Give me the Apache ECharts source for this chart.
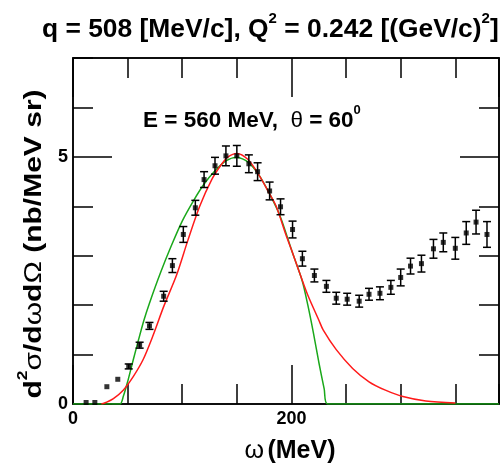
<!DOCTYPE html>
<html>
<head>
<meta charset="utf-8">
<script src="https://cdn.jsdelivr.net/npm/echarts@6/dist/echarts.min.js"></script>
<style>
  html, body { margin: 0; padding: 0; background: #fff; }
  #chart { width: 504px; height: 466px; }
</style>
</head>
<body>
<div id="chart"></div>
<script>
// Measured cross section (energy transfer in MeV, value in nb/MeV sr, error)
const omega = [12, 20, 31, 41, 51, 61, 70, 83, 91, 101, 112, 120, 130, 140, 150, 161, 169, 180, 190, 201,
               210, 221, 232, 241, 251, 262, 271, 281, 291, 300, 309, 319, 330, 339, 350, 360, 369, 379];
const sigma = [0.03, 0.03, 0.35, 0.50, 0.76, 1.19, 1.58, 2.18, 2.80, 3.43, 3.97, 4.54, 4.82, 5.02, 5.02, 4.86, 4.70, 4.31, 3.99, 3.53,
               2.94, 2.60, 2.38, 2.14, 2.12, 2.08, 2.22, 2.24, 2.36, 2.56, 2.79, 2.84, 3.14, 3.27, 3.15, 3.46, 3.68, 3.43];
const sigmaErr = [0, 0, 0, 0, 0.05, 0.06, 0.07, 0.10, 0.14, 0.16, 0.15, 0.16, 0.17, 0.20, 0.21, 0.18, 0.18, 0.18, 0.16, 0.17,
                  0.15, 0.13, 0.12, 0.12, 0.12, 0.12, 0.12, 0.13, 0.14, 0.17, 0.16, 0.17, 0.19, 0.19, 0.22, 0.23, 0.24, 0.26];

// Model curves
const greenOmega = [0, 43, 46, 50, 55, 60, 65, 70, 80, 90, 100, 110, 120, 130, 140, 150, 160, 170, 180, 190, 200, 210, 215, 220, 225, 230, 233, 390];
const greenSigma = [0, 0, 0.15, 0.45, 0.88, 1.30, 1.70, 2.04, 2.65, 3.20, 3.70, 4.10, 4.45, 4.72, 4.92, 4.99, 4.90, 4.64, 4.25, 3.78, 3.12, 2.48, 2.00, 1.45, 0.85, 0.30, 0, 0];
const redOmega = [26, 30, 37, 46, 55, 64, 73, 83, 95, 105, 116, 127, 136, 142, 150, 160, 170, 180, 186, 195, 200, 208, 215, 225, 229, 241, 256, 271, 286, 302, 323, 350];
const redSigma = [0, 0.03, 0.11, 0.28, 0.55, 0.89, 1.37, 1.97, 2.62, 3.30, 4.00, 4.54, 4.85, 5.00, 5.07, 4.95, 4.64, 4.25, 4.00, 3.42, 3.12, 2.62, 2.20, 1.70, 1.50, 1.10, 0.72, 0.45, 0.28, 0.15, 0.06, 0.02];

const xLabelTicks = [0, 200];
const yLabelTicks = [0, 5];

const pairs = (xs, ys) => xs.map((x, i) => [x, ys[i]]);

const black = '#000';
const axisLineStyle = { color: black, width: 1.5 };
const tickStyle = { color: black, width: 1.5 };
const textFont = 'Liberation Sans, Arial, sans-serif';
const tickFont = { fontFamily: textFont, fontWeight: 'bold', fontSize: 18, color: black };

function xAxisDef(position, interval, len, labels) {
  return {
    type: 'value', min: 0, max: 390, interval: interval, position: position,
    axisLine: { show: true, onZero: false, lineStyle: axisLineStyle },
    axisTick: { show: true, inside: true, length: len, lineStyle: tickStyle },
    axisLabel: labels ? Object.assign({
      show: true, margin: 6, showMaxLabel: false,
      formatter: v => (xLabelTicks.indexOf(v) >= 0 ? String(v) : '')
    }, tickFont) : { show: false },
    splitLine: { show: false }
  };
}
function yAxisDef(position, interval, len, labels) {
  return {
    type: 'value', min: 0, max: 7, interval: interval, position: position,
    axisLine: { show: true, onZero: false, lineStyle: axisLineStyle },
    axisTick: { show: true, inside: true, length: len, lineStyle: tickStyle },
    axisLabel: labels ? Object.assign({
      show: true, margin: 5, showMaxLabel: false,
      formatter: v => (yLabelTicks.indexOf(v) >= 0 ? String(v) : '')
    }, tickFont) : { show: false },
    splitLine: { show: false }
  };
}

const chart = echarts.init(document.getElementById('chart'), null, { renderer: 'canvas' });

chart.setOption({
  animation: false,
  backgroundColor: '#fff',
  grid: { left: 73, top: 58, right: 5, bottom: 62, containLabel: false },
  xAxis: [
    xAxisDef('bottom', 50, 20, false),
    xAxisDef('bottom', 200, 39, true),
    xAxisDef('top', 50, 20, false),
    xAxisDef('top', 200, 39, false)
  ],
  yAxis: [
    yAxisDef('left', 1, 20, false),
    yAxisDef('left', 5, 39, true),
    yAxisDef('right', 1, 20, false),
    yAxisDef('right', 5, 39, false)
  ],
  graphic: [
    {
      type: 'text', left: 42, top: 11,
      style: {
        text: '{m|q = 508 [MeV/c], Q}{s|2}{m| = 0.242 [(GeV/c)}{s|2}{m|]}',
        rich: {
          m: { fontFamily: textFont, fontWeight: 'bold', fontSize: 26.4, lineHeight: 32, fill: black, verticalAlign: 'bottom' },
          s: { fontFamily: textFont, fontWeight: 'bold', fontSize: 15, lineHeight: 32, fill: black, verticalAlign: 'top' }
        }
      }
    },
    {
      type: 'text', left: 143, top: 104,
      style: {
        text: '{m|E = 560 MeV,  }{g|θ}{m| = 60}{s|0}',
        rich: {
          m: { fontFamily: textFont, fontWeight: 'bold', fontSize: 22.5, lineHeight: 28, fill: black, verticalAlign: 'bottom' },
          g: { fontFamily: textFont, fontWeight: 'normal', fontSize: 22.5, lineHeight: 28, fill: black, verticalAlign: 'bottom' },
          s: { fontFamily: textFont, fontWeight: 'bold', fontSize: 13, lineHeight: 28, fill: black, verticalAlign: 'top' }
        }
      }
    },
    {
      type: 'text', x: 290, y: 451,
      style: {
        text: '{g|ω} {m|(MeV)}',
        align: 'center', verticalAlign: 'middle',
        rich: {
          m: { fontFamily: textFont, fontWeight: 'bold', fontSize: 25, fill: black },
          g: { fontFamily: textFont, fontWeight: 'normal', fontSize: 25, fill: black }
        }
      }
    },
    {
      type: 'text', x: 31, y: 244, rotation: Math.PI / 2, scaleX: 1.25,
      style: {
        text: '{m|d}{s|2}{g|σ}{m|/d}{g|ω}{m|d}{g|Ω}{m| (nb/MeV sr)}',
        align: 'center', verticalAlign: 'middle',
        rich: {
          m: { fontFamily: textFont, fontWeight: 'bold', fontSize: 24, lineHeight: 30, fill: black, verticalAlign: 'bottom' },
          g: { fontFamily: textFont, fontWeight: 'normal', fontSize: 24, lineHeight: 30, fill: black, verticalAlign: 'bottom' },
          s: { fontFamily: textFont, fontWeight: 'bold', fontSize: 14, lineHeight: 30, fill: black, verticalAlign: 'top' }
        }
      }
    }
  ],
  series: [
    {
      type: 'line', name: 'green', xAxisIndex: 0, yAxisIndex: 0,
      data: pairs(greenOmega, greenSigma),
      showSymbol: false, smooth: 0.25, z: 3,
      lineStyle: { color: '#1aa81a', width: 1.5 }
    },
    {
      type: 'line', name: 'red', xAxisIndex: 0, yAxisIndex: 0,
      data: pairs(redOmega, redSigma),
      showSymbol: false, smooth: 0.3, z: 4,
      lineStyle: { color: '#ff1a1a', width: 1.5 }
    },
    {
      type: 'custom', name: 'errors', xAxisIndex: 0, yAxisIndex: 0, z: 5,
      data: omega.map((x, i) => [x, sigma[i], sigmaErr[i]]),
      renderItem: function (params, api) {
        const x = api.value(0), y = api.value(1), e = api.value(2);
        if (!e) return { type: 'group', children: [] };
        const hi = api.coord([x, y + e]);
        const lo = api.coord([x, y - e]);
        const hw = 4;
        const st = { stroke: black, lineWidth: 1.5 };
        return {
          type: 'group',
          children: [
            { type: 'line', shape: { x1: hi[0], y1: hi[1], x2: lo[0], y2: lo[1] }, style: st },
            { type: 'line', shape: { x1: hi[0] - hw, y1: hi[1], x2: hi[0] + hw, y2: hi[1] }, style: st },
            { type: 'line', shape: { x1: lo[0] - hw, y1: lo[1], x2: lo[0] + hw, y2: lo[1] }, style: st }
          ]
        };
      }
    },
    {
      type: 'scatter', name: 'data', xAxisIndex: 0, yAxisIndex: 0, z: 6,
      data: pairs(omega, sigma),
      symbol: 'rect', symbolSize: [5, 5],
      itemStyle: { color: black }
    }
  ]
});
</script>
</body>
</html>
